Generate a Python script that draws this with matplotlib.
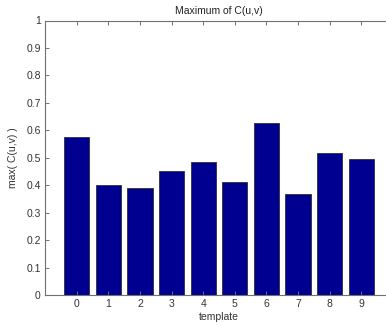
import matplotlib
matplotlib.use("Agg")
import matplotlib.pyplot as plt
import numpy as np

templates = [0, 1, 2, 3, 4, 5, 6, 7, 8, 9]
max_c = [0.574, 0.401, 0.389, 0.451, 0.483, 0.412, 0.625, 0.368, 0.517, 0.497]
yticks = [0, 0.1, 0.2, 0.3, 0.4, 0.5, 0.6, 0.7, 0.8, 0.9, 1.0]
ytick_labels = ["0", "0.1", "0.2", "0.3", "0.4", "0.5", "0.6", "0.7", "0.8", "0.9", "1"]

plt.rcParams['font.family'] = ['Liberation Sans', 'DejaVu Sans']

W, H = 386, 326
fig = plt.figure(figsize=(W / 100, H / 100), dpi=100)
ax = fig.add_axes([45 / W, (H - 295) / H, 348 / W, 274.5 / H])

ax.bar(templates, max_c, width=0.8, color='#000090', edgecolor='#303030', linewidth=0.6)
ax.set_xlim(-1, 10)
ax.set_ylim(0, 1)
ax.set_xticks(templates)
ax.set_yticks(yticks)
ax.set_yticklabels(ytick_labels)

for s in ax.spines.values():
    s.set_color('#707070')
    s.set_linewidth(0.8)
ax.spines['right'].set_visible(False)
ax.tick_params(direction='in', length=3, width=0.7, color='#707070',
               labelsize=7.5, labelcolor='#333333', top=True, right=False, pad=3)

ax.set_title('Maximum of C(u,v)', fontsize=7.5, color='#222222', pad=5)
ax.set_xlabel('template', fontsize=7.5, color='#333333', labelpad=2)
ax.set_ylabel('max( C(u,v) )', fontsize=7.5, color='#333333', labelpad=6)

fig.savefig('out.png', dpi=100)
